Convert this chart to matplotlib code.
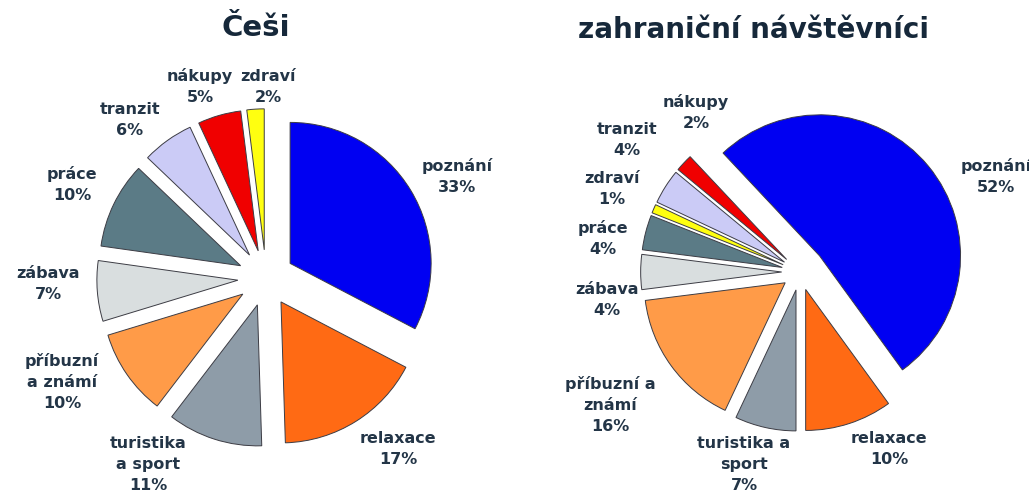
import matplotlib
matplotlib.use("Agg")
import matplotlib.pyplot as plt

# data
categories = ["poznání", "relaxace", "turistika a sport", "příbuzní a známí",
              "zábava", "práce", "tranzit", "nákupy", "zdraví"]
cesi = [33, 17, 11, 10, 7, 10, 6, 5, 2]

categories_zahr = ["poznání", "relaxace", "turistika a sport", "příbuzní a známí",
                   "zábava", "práce", "zdraví", "tranzit", "nákupy"]
zahr = [52, 10, 7, 16, 4, 4, 1, 4, 2]

titles = ["Češi", "zahraniční návštěvníci"]

colors = {
    "poznání": "#0000f2",
    "relaxace": "#ff6a14",
    "turistika a sport": "#8e9ca8",
    "příbuzní a známí": "#ff9b48",
    "zábava": "#d9dedf",
    "práce": "#5b7b86",
    "tranzit": "#cbcbf6",
    "nákupy": "#f00000",
    "zdraví": "#ffff10",
}

# label text per category (line breaks as in the picture)
names_left = {"turistika a sport": "turistika\na sport",
              "příbuzní a známí": "příbuzní\na známí"}
names_right = {"turistika a sport": "turistika a\nsport",
               "příbuzní a známí": "příbuzní a\nznámí"}

# label centres in pixels (from top-left)
pos_left = [(457, 176), (398, 449), (148, 465), (62, 382), (48, 284),
            (72, 184), (130, 120), (200, 87), (268, 87)]
pos_right = [(996, 176), (889, 449), (744, 465), (610, 405), (607, 300),
             (603, 239), (612, 189), (627, 140), (696, 113)]

W, H = 1029, 500
R = 141
txt_col = "#233547"

fig = plt.figure(figsize=(W / 100, H / 100), dpi=100)
fig.patch.set_facecolor("white")


def draw_pie(cx, cy, vals, cats, startangle, explode, names, pos):
    ax = fig.add_axes([0, 0, 1, 1])
    ax.pie(vals, colors=[colors[c] for c in cats], startangle=startangle,
           counterclock=False, explode=explode, radius=1,
           wedgeprops=dict(edgecolor="#3c3c44", linewidth=0.7))
    ax.set_aspect("auto")
    ax.set_xlim(-cx / R, (W - cx) / R)
    ax.set_ylim(-(H - cy) / R, cy / R)
    ax.axis("off")
    total = sum(vals)
    for c, v, (px, py) in zip(cats, vals, pos):
        label = names.get(c, c) + "\n" + str(v) + "%"
        fig.text(px / W, 1 - py / H, label, ha="center", va="center",
                 multialignment="center", fontsize=11.5, fontweight="bold",
                 color=txt_col, linespacing=1.5)
    return ax


draw_pie(266, 278, cesi, categories, 90, [0.2] * len(cesi), names_left, pos_left)
draw_pie(800, 272, zahr, categories_zahr, 133.2,
         [0.18] + [0.13] * (len(zahr) - 1), names_right, pos_right)

fig.text(256 / W, 1 - 28 / H, titles[0], ha="center", va="center",
         fontsize=21, fontweight="bold", color="#16283a")
fig.text(754 / W, 1 - 30 / H, titles[1], ha="center", va="center",
         fontsize=20, fontweight="bold", color="#16283a")

plt.savefig("out.png", dpi=100)
